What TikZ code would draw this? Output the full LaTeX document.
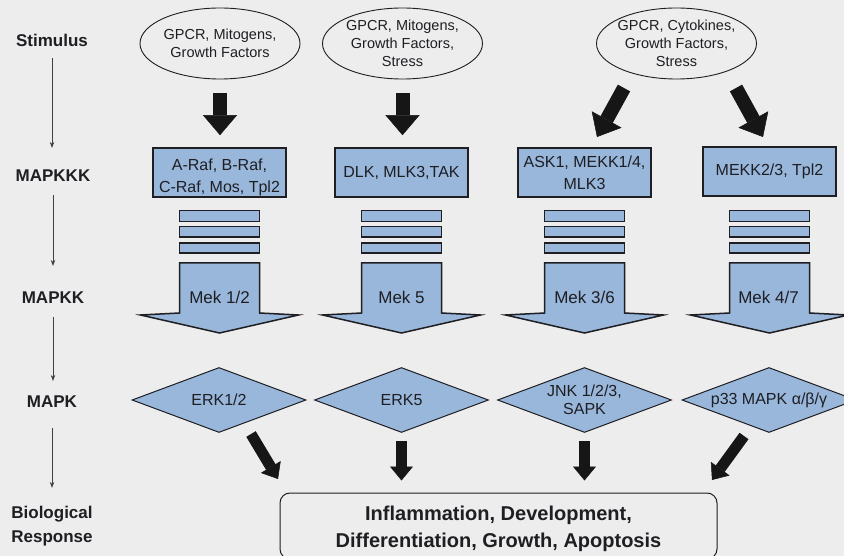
\documentclass[tikz,border=0pt]{standalone}
\usepackage{fontspec}
\setmainfont{Liberation Sans}
\usetikzlibrary{shapes.geometric,arrows.meta}
\definecolor{bg}{RGB}{237,237,237}
\definecolor{blu}{RGB}{152,183,219}
\definecolor{ink}{RGB}{30,30,35}
\definecolor{arr}{RGB}{22,22,22}
\begin{document}
\begin{tikzpicture}[x=1pt,y=-1pt,
  lab/.style={font=\fontsize{17}{24}\selectfont\bfseries, text=ink, inner sep=0pt, align=center},
  side/.style={draw=ink!85, line width=0.8pt, -{Stealth[length=6pt,width=4.5pt]}},
  stim/.style={ellipse, draw=ink, line width=0.9pt, minimum width=160pt, minimum height=71pt, inner sep=-15pt, align=center, font=\fontsize{14.5}{18}\selectfont, text=ink},
  kkk/.style={rectangle, draw=ink, line width=1.6pt, fill=blu, minimum width=133pt, minimum height=49pt, inner sep=1pt, align=center, font=\fontsize{16}{22}\selectfont, text=ink},
  kkktext/.style={inner sep=0pt, align=center, font=\fontsize{16}{22}\selectfont, text=ink},
  bar/.style={draw=ink, line width=1.8pt, fill=blu},
  big/.style={draw=ink, line width=1.5pt, fill=blu, line join=miter},
  mek/.style={font=\fontsize{17}{20}\selectfont, text=ink, inner sep=0pt},
  mapk/.style={diamond, draw=ink, line width=1pt, fill=blu, minimum width=174pt, minimum height=65pt, aspect=2.68, inner sep=0pt, align=center, font=\fontsize{16}{18}\selectfont, text=ink},
  fat/.style={line width=14pt, draw=arr, -{Triangle[width=34pt,length=20pt,line width=0.5pt]}},
  fatsm/.style={line width=11pt, draw=arr, -{Triangle[width=23pt,length=14pt,line width=0.5pt]}},
  resp/.style={rectangle, rounded corners=10pt, draw=ink, line width=1pt, minimum width=437pt, minimum height=66pt},
  resptext/.style={font=\fontsize{20}{27}\selectfont\bfseries, text=ink, align=center, inner sep=0pt}
]
\fill[bg] (0,0) rectangle (844,556);
\useasboundingbox (0,0) rectangle (844,556);
\clip (0,0) rectangle (844,556);

% left labels
\node[lab] (Ls) at (52,40) {Stimulus};
\node[lab] (Lkkk) at (53,176) {MAPKKK};
\node[lab] (Lkk) at (53,298) {MAPKK};
\node[lab] (Lk) at (52,402) {MAPK};
\node[lab] (Lb) at (52,526) {Biological\\Response};
\draw[side, shorten <=12pt, shorten >=22pt] (Ls.south) -- (Ls.south |- Lkkk.north);
\draw[side, shorten <=13pt, shorten >=26pt] (Lkkk.south) -- (Lkkk.south |- Lkk.north);
\draw[side, shorten <=13pt, shorten >=15pt] (Lkk.south) -- (Lkk.south |- Lk.north);
\draw[side, shorten <=20pt, shorten >=18pt] (Lk.south) -- (Lk.south |- Lb.north);

% stimuli
\node[stim] (e1) at (220,43.5) {GPCR, Mitogens,\\Growth Factors};
\node[stim] (e2) at (402.5,43.5) {GPCR, Mitogens,\\Growth Factors,\\Stress};
\node[stim] (e3) at (676.5,43.5) {GPCR, Cytokines,\\Growth Factors,\\Stress};

% MAPKKK
\node[kkk] (k1) at (219.5,172.5) {};
\node[kkktext] (k1t) at ([yshift=-5pt]k1.center) {A-Raf, B-Raf,\\C-Raf, Mos, Tpl2};
\node[kkk] (k2) at (401.5,172.5) {DLK, MLK3,TAK};
\node[kkk] (k3) at (584.5,172.5) {ASK1, MEKK1/4,\\MLK3};
\node[kkk] (k4) at (769.5,171.5) {MEKK2/3, Tpl2};

% bars and big arrows
\foreach \cx in {219.5,401.5,584.5,769.5}{
  \draw[bar] (\cx-40,210.5) rectangle (\cx+40,221.5);
  \draw[bar] (\cx-40,226.5) rectangle (\cx+40,237);
  \draw[bar] (\cx-40,243) rectangle (\cx+40,253);
  \draw[big] (\cx-40,263) -- (\cx+40,263) -- (\cx+40,313) -- (\cx+79,315)
     -- (\cx,333) -- (\cx-79,315) -- (\cx-40,313) -- cycle;
}
\node[mek] (m1) at (219.5,297) {Mek 1/2};
\node[mek] (m2) at (401.5,297) {Mek 5};
\node[mek] (m3) at (584.5,297) {Mek 3/6};
\node[mek] (m4) at (768.5,297) {Mek 4/7};

% MAPK
\node[mapk] (d1) at (219,400) {ERK1/2};
\node[mapk] (d2) at (401.5,400) {ERK5};
\node[mapk] (d3) at (584.5,400) {JNK 1/2/3,\\SAPK};
\node[mapk] (d4) at (769,400) {p33 MAPK α/β/γ};

% response
\node[resp] (R) at (498.5,526) {};
\node[resptext] (Rt) at (498.5,528.5) {Inflammation, Development,\\Differentiation, Growth, Apoptosis};

% fat arrows
\coordinate (a3s) at (624,88);
\coordinate (a3e) at (597,137);
\coordinate (a4s) at (736,88);
\coordinate (a4e) at (763,137);
\draw[fat, shorten <=13.5pt, shorten >=12pt] (e1.south) -- (e1.south |- k1.north);
\draw[fat, shorten <=13.5pt, shorten >=12pt] (e2.south) -- (e2.south |- k2.north);
\draw[fat] (a3s) -- (a3e);
\draw[fat] (a4s) -- (a4e);

\coordinate (b1s) at (251,434);
\coordinate (b1e) at (278,479);
\coordinate (b4s) at (744,436);
\coordinate (b4e) at (712,480);
\draw[fatsm] (b1s) -- (b1e);
\draw[fatsm, shorten <=8pt, shorten >=12pt] (d2.south) -- (d2.south |- R.north);
\draw[fatsm, shorten <=8pt, shorten >=12pt] (d3.south) -- (d3.south |- R.north);
\draw[fatsm] (b4s) -- (b4e);
\end{tikzpicture}
\end{document}
